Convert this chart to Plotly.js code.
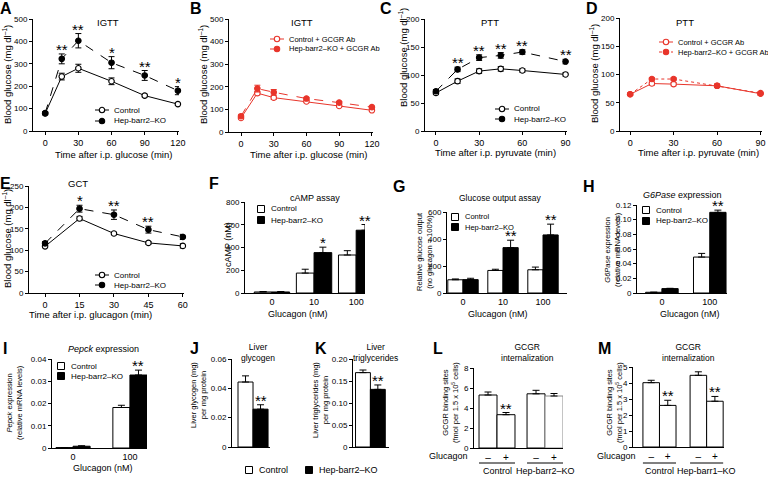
<!DOCTYPE html>
<html>
<head>
<meta charset="utf-8">
<script src="https://cdn.plot.ly/plotly-3.0.1.min.js"></script>
<style>body{margin:0;background:#fff}#fig{width:768px;height:481px}</style>
</head>
<body>
<div id="fig"></div>
<script>
// ---- data ----
// A: IGTT
const igttTime = [0, 15, 30, 60, 90, 120];
const igttCtrl = [78, 243, 280, 222, 158, 120];
const igttCtrlErr = [6, 15, 18, 15, 6, 6];
const igttKO = [80, 322, 403, 305, 248, 180];
const igttKOErr = [5, 22, 32, 27, 22, 18];
const igttStars = ['', '**', '**', '*', '**', '*'];
// B: IGTT + GCGR Ab
const igttAbCtrl = [62, 172, 152, 135, 115, 96];
const igttAbCtrlErr = [5, 8, 8, 5, 4, 5];
const igttAbKO = [70, 192, 176, 148, 130, 110];
const igttAbKOErr = [5, 15, 12, 5, 5, 5];
// C: PTT
const pttTime = [0, 15, 30, 45, 60, 90];
const pttCtrl = [68, 89, 107, 111, 108, 101];
const pttCtrlErr = [3, 4, 4, 4, 3, 3];
const pttKO = [71, 110, 131, 135, 141, 124];
const pttKOErr = [3, 4, 5, 5, 4, 4];
const pttStars = ['', '**', '**', '**', '**', '**'];
// D: PTT + GCGR Ab
const pttAbTime = [0, 15, 30, 60, 90];
const pttAbCtrl = [65, 84, 83, 80, 66];
const pttAbCtrlErr = [2, 3, 3, 3, 3];
const pttAbKO = [65, 92, 92, 80, 67];
const pttAbKOErr = [2, 2, 2, 3, 2];
// E: GCT
const gctTime = [0, 15, 30, 45, 60];
const gctCtrl = [109, 174, 139, 117, 110];
const gctCtrlErr = [3, 5, 3, 3, 5];
const gctKO = [116, 197, 183, 148, 131];
const gctKOErr = [4, 8, 11, 8, 6];
const gctStars = ['', '*', '**', '**', ''];
// F: cAMP assay
const campDoses = ['0', '10', '100'];
const campCtrl = [9, 175, 334];
const campCtrlErr = [4, 34, 38];
const campKO = [9, 355, 552];
const campKOErr = [4, 48, 50];
const campStars = ['', '*', '**'];
// G: glucose output
const outDoses = ['0', '10', '100'];
const outCtrl = [98, 167, 172];
const outCtrlErr = [6, 9, 20];
const outKO = [99, 336, 430];
const outKOErr = [10, 55, 80];
const outStars = ['', '**', '**'];
// H: G6Pase
const g6Doses = ['0', '100'];
const g6Ctrl = [0.001, 0.049];
const g6CtrlErr = [0, 0.005];
const g6KO = [0.006, 0.110];
const g6KOErr = [0.0004, 0.003];
const g6Stars = ['', '**'];
// I: Pepck
const pepDoses = ['0', '100'];
const pepCtrl = [0.0002, 0.0182];
const pepCtrlErr = [0, 0.001];
const pepKO = [0.0008, 0.0328];
const pepKOErr = [0.0002, 0.0022];
const pepStars = ['', '**'];
// J, K: liver content
const glycogen = [0.0443, 0.0258];
const glycogenErr = [0.0042, 0.003];
const trig = [0.169, 0.131];
const trigErr = [0.006, 0.010];
// L, M: GCGR internalization (-, + glucagon per genotype)
const glucagonSigns = ['–', '+', '–', '+'];
const intL = [5.3, 3.33, 5.42, 5.2];
const intLErr = [0.3, 0.22, 0.35, 0.25];
const intLStars = ['', '**', '', ''];
const intLGroups = ['Control', 'Hep-barr2–KO'];
const intM = [4.02, 2.6, 4.48, 2.86];
const intMErr = [0.15, 0.32, 0.22, 0.3];
const intMStars = ['', '**', '', '**'];
const intMGroups = ['Control', 'Hep-barr1–KO'];

const nameCtrl = 'Control';
const nameKO = 'Hep-barr2–KO';
const nameCtrlAb = 'Control + GCGR Ab';
const nameKOAb = 'Hep-barr2–KO + GCGR Ab';

// ---- helpers ----
const W = 768, H = 481;
const RED = '#e8352b';
const FONT = 'Liberation Sans, Arial, Helvetica, sans-serif';
const fx = p => p / W;
const fy = p => 1 - p / H;
const axId = n => (n === 1 ? '' : String(n));

const traces = [];
const layout = {
    width: W,
    height: H,
    margin: {l: 0, r: 0, t: 0, b: 0},
    showlegend: false,
    barmode: 'overlay',
    paper_bgcolor: 'white',
    plot_bgcolor: 'rgba(0,0,0,0)',
    font: {family: FONT, size: 9, color: 'black'},
    annotations: [],
    shapes: [],
};

function setAxes(n, box, xRange, yRange, yVals, yText, xExtra) {
    const [x0, x1, y0, y1] = box;
    layout['xaxis' + axId(n)] = Object.assign({
        domain: [fx(x0), fx(x1)],
        range: xRange,
        anchor: 'y' + axId(n),
        showline: true, linecolor: 'black', linewidth: 1,
        ticks: 'outside', ticklen: 3, tickwidth: 1, tickcolor: 'black',
        showgrid: false, zeroline: false, fixedrange: true,
        tickfont: {family: FONT, size: 9},
    }, xExtra);
    layout['yaxis' + axId(n)] = {
        domain: [fy(y1), fy(y0)],
        range: yRange,
        anchor: 'x' + axId(n),
        showline: true, linecolor: 'black', linewidth: 1,
        ticks: 'outside', ticklen: 3, tickwidth: 1, tickcolor: 'black',
        showgrid: false, zeroline: false, fixedrange: true,
        tickvals: yVals,
        ticktext: yText || yVals.map(String),
        tickfont: {family: FONT, size: 8},
    };
}

function addLine(n, x, y, err, color, filled, dash) {
    traces.push({
        type: 'scatter', mode: 'lines+markers', x, y,
        xaxis: 'x' + axId(n), yaxis: 'y' + axId(n),
        line: {color, width: 1, dash},
        marker: {symbol: 'circle', size: 5.5, color: filled ? color : 'white', line: {color, width: 1.1}},
        error_y: {type: 'data', array: err, color, thickness: 1, width: 3},
        cliponaxis: false,
    });
}

function addBars(n, x, y, err, width, fill, edge) {
    traces.push({
        type: 'bar', x, y, width,
        xaxis: 'x' + axId(n), yaxis: 'y' + axId(n),
        marker: {color: fill, line: {color: edge || 'black', width: 1}},
        error_y: {type: 'data', symmetric: false, array: err, arrayminus: err.map(() => 0),
            color: 'black', thickness: 1, width: 3.5},
    });
}

function addStars(n, x, tops, labels) {
    labels.forEach((s, i) => {
        if (!s) return;
        layout.annotations.push({
            xref: 'x' + axId(n), yref: 'y' + axId(n), x: x[i], y: tops[i],
            text: s, showarrow: false, xanchor: 'center', yanchor: 'bottom', yshift: -6,
            font: {family: FONT, size: 15},
        });
    });
}

function text(x, y, t, size, extra) {
    layout.annotations.push(Object.assign({
        xref: 'paper', yref: 'paper', x: fx(x), y: fy(y), text: t, showarrow: false,
        xanchor: 'center', yanchor: 'middle', font: {family: FONT, size},
    }, extra));
}

function ytitle(x, y, t, size) {
    text(x, y, t, size, {textangle: -90});
}

function lineLegend(textX, rows, names, color, dashes, size) {
    names.forEach((name, i) => {
        const y = rows[i];
        const cx = textX - 10;
        layout.shapes.push({type: 'line', xref: 'paper', yref: 'paper',
            x0: fx(cx - 7), x1: fx(cx + 7), y0: fy(y), y1: fy(y),
            line: {color, width: 1, dash: dashes[i]}});
        layout.shapes.push({type: 'circle', xref: 'paper', yref: 'paper',
            xsizemode: 'pixel', ysizemode: 'pixel', xanchor: fx(cx), yanchor: fy(y),
            x0: -2.7, x1: 2.7, y0: -2.7, y1: 2.7,
            fillcolor: i === 0 ? 'white' : color, line: {color, width: 1.1}});
        text(textX, y, name, size || 8, {xanchor: 'left'});
    });
}

function barLegend(textX, rows, names, size, fills) {
    names.forEach((name, i) => {
        const y = rows[i];
        const cx = textX - 8;
        layout.shapes.push({type: 'rect', xref: 'paper', yref: 'paper',
            xsizemode: 'pixel', ysizemode: 'pixel', xanchor: fx(cx), yanchor: fy(y),
            x0: -3.5, x1: 3.5, y0: -3.5, y1: 3.5,
            fillcolor: fills ? fills[i] : (i === 0 ? 'white' : 'black'), line: {color: 'black', width: 1}});
        text(textX, y, name, size || 8, {xanchor: 'left'});
    });
}

const sumTop = (v, e) => v.map((d, i) => d + e[i]);

// ---- A ----
setAxes(1, [33, 179, 19, 131], [-11, 121], [0, 500], [0, 100, 200, 300, 400, 500], null,
    {tickvals: [0, 30, 60, 90, 120]});
addLine(1, igttTime, igttCtrl, igttCtrlErr, 'black', false, 'solid');
addLine(1, igttTime, igttKO, igttKOErr, 'black', true, 'dash');
addStars(1, igttTime, sumTop(igttKO, igttKOErr), igttStars);
lineLegend(112, [110, 121], [nameCtrl, nameKO], 'black', ['solid', 'dash']);

// ---- B ----
setAxes(2, [229, 373, 19, 132], [-11, 121], [0, 500], [0, 100, 200, 300, 400, 500], null,
    {tickvals: [0, 30, 60, 90, 120]});
addLine(2, igttTime, igttAbCtrl, igttAbCtrlErr, RED, false, 'solid');
addLine(2, igttTime, igttAbKO, igttAbKOErr, RED, true, 'dash');
lineLegend(287, [39, 49], [nameCtrlAb, nameKOAb], RED, ['solid', 'dash'], 7.5);

// ---- C ----
setAxes(3, [425, 567, 19, 131], [-7.6, 91], [0, 200], [0, 50, 100, 150, 200], null,
    {tickvals: [0, 30, 60, 90]});
addLine(3, pttTime, pttCtrl, pttCtrlErr, 'black', false, 'solid');
addLine(3, pttTime, pttKO, pttKOErr, 'black', true, 'dash');
addStars(3, pttTime, sumTop(pttKO, pttKOErr), pttStars);
lineLegend(512, [109, 119], [nameCtrl, nameKO], 'black', ['solid', 'dash']);

// ---- D ----
setAxes(4, [620, 762, 18, 131], [-7, 91], [0, 200], [0, 50, 100, 150, 200], null,
    {tickvals: [0, 30, 60, 90]});
addLine(4, pttAbTime, pttAbCtrl, pttAbCtrlErr, RED, false, 'solid');
addLine(4, pttAbTime, pttAbKO, pttAbKOErr, RED, true, 'dot');
lineLegend(676, [42, 52], [nameCtrlAb, nameKOAb], RED, ['solid', 'dot'], 7.5);

// ---- E ----
setAxes(5, [29, 184, 186, 293], [-7, 60.5], [0, 250], [0, 50, 100, 150, 200, 250], null,
    {tickvals: [0, 15, 30, 45, 60]});
addLine(5, gctTime, gctCtrl, gctCtrlErr, 'black', false, 'solid');
addLine(5, gctTime, gctKO, gctKOErr, 'black', true, 'dash');
addStars(5, gctTime, sumTop(gctKO, gctKOErr), gctStars);
lineLegend(112, [275, 285], [nameCtrl, nameKO], 'black', ['solid', 'dash']);

// ---- grouped bar panels F, G, H, I ----
const barX = {ticks: '', tickfont: {family: FONT, size: 9}};
function groupedBars(n, box, xRange, yRange, yVals, yText, cats, ctrl, ctrlErr, ko, koErr, stars, w) {
    const g = cats.map((_, i) => i);
    setAxes(n, box, xRange, yRange, yVals, yText, Object.assign({tickvals: g, ticktext: cats}, barX));
    addBars(n, g.map(v => v - w / 2), ctrl, ctrlErr, w, 'white');
    addBars(n, g.map(v => v + w / 2), ko, koErr, w, 'black');
    addStars(n, g.map(v => v + w / 2), sumTop(ko, koErr), stars);
}

groupedBars(6, [245, 365, 202, 293], [-0.64, 2.21], [0, 800], [0, 200, 400, 600, 800], null,
    campDoses, campCtrl, campCtrlErr, campKO, campKOErr, campStars, 0.42);
barLegend(269, [209, 220], [nameCtrl, nameKO]);

groupedBars(7, [447, 567, 212, 293], [-0.4, 2.6], [0, 600], [0, 200, 400, 600], null,
    outDoses, outCtrl, outCtrlErr, outKO, outKOErr, outStars, 0.38);
barLegend(463, [217, 227], [nameCtrl, nameKO], 7.5);

groupedBars(8, [637, 727, 205, 293], [-0.52, 1.36], [0, 0.12],
    [0, 0.02, 0.04, 0.06, 0.08, 0.10, 0.12], ['0', '0.02', '0.04', '0.06', '0.08', '0.10', '0.12'],
    g6Doses, g6Ctrl, g6CtrlErr, g6KO, g6KOErr, g6Stars, 0.34);
barLegend(654, [210, 221], [nameCtrl, nameKO]);

groupedBars(9, [52, 147, 359, 448], [-0.37, 1.3], [0, 0.04],
    [0, 0.01, 0.02, 0.03, 0.04], ['0', '0.01', '0.02', '0.03', '0.04'],
    pepDoses, pepCtrl, pepCtrlErr, pepKO, pepKOErr, pepStars, 0.3);
barLegend(69, [366, 376], [nameCtrl, nameKO]);

// ---- J, K ----
const noX = {showticklabels: false, ticks: ''};
setAxes(10, [232, 270, 359, 447], [-0.9, 1.63], [0, 0.06], [0, 0.02, 0.04, 0.06],
    ['0', '0.02', '0.04', '0.06'], noX);
addBars(10, [0], [glycogen[0]], [glycogenErr[0]], 1, 'white');
addBars(10, [1], [glycogen[1]], [glycogenErr[1]], 1, 'black');
addStars(10, [1], [glycogen[1] + glycogenErr[1]], ['**']);

setAxes(11, [353, 389, 359, 447], [-0.67, 1.75], [0, 0.2], [0, 0.05, 0.10, 0.15, 0.20],
    ['0', '0.05', '0.10', '0.15', '0.20'], noX);
addBars(11, [0], [trig[0]], [trigErr[0]], 1, 'white');
addBars(11, [1], [trig[1]], [trigErr[1]], 1, 'black');
addStars(11, [1], [trig[1] + trigErr[1]], ['**']);

barLegend(257, [470], [nameCtrl], 9, ['white']);
barLegend(317, [470], [nameKO], 9, ['black']);

// ---- L, M ----
function internalization(n, box, xRange, yRange, yVals, vals, errs, stars, groups, gap, edges) {
    const pos = vals.map((_, i) => Math.floor(i / 2) * gap + (i % 2));
    setAxes(n, box, xRange, yRange, yVals, null,
        Object.assign({}, barX, {tickvals: pos, ticktext: glucagonSigns, tickfont: {family: FONT, size: 10}}));
    vals.forEach((v, i) => addBars(n, [pos[i]], [v], [errs[i]], 1, 'white', edges ? edges[i] : 'black'));
    addStars(n, pos, sumTop(vals, errs), stars);
    groups.forEach((name, gi) => {
        layout.shapes.push({type: 'line', xref: 'x' + axId(n), yref: 'paper',
            x0: gi * gap - 0.5, x1: gi * gap + 1.5, y0: fy(463), y1: fy(463),
            line: {color: 'black', width: 1}});
        layout.annotations.push({xref: 'x' + axId(n), yref: 'paper', x: gi * gap + 0.5, y: fy(471),
            text: name, showarrow: false, yanchor: 'middle', font: {family: FONT, size: 9}});
    });
}

internalization(12, [474, 563, 368, 448], [-0.78, 4.17], [0, 8], [0, 2, 4, 6, 8],
    intL, intLErr, intLStars, intLGroups, 2.67, ['black', 'black', 'black', '#888']);
text(470, 456, 'Glucagon', 9, {xanchor: 'right'});

internalization(13, [633, 724, 367, 447], [-1.1, 4.4], [0, 5], [0, 1, 2, 3, 4, 5],
    intM, intMErr, intMStars, intMGroups, 2.85);
text(638, 456, 'Glucagon', 9, {xanchor: 'right'});

// ---- titles ----
text(108, 22, 'IGTT', 9.5);
text(302, 22, 'IGTT', 9.5);
text(490, 22, 'PTT', 9.5);
text(685, 22, 'PTT', 9.5);
text(78, 183, 'GCT', 9.5);
text(315, 198, 'cAMP assay', 9);
text(500, 198, 'Glucose output assay', 8.5);
text(682, 195, '<i>G6Pase</i> expression', 9);
text(103, 349, '<i>Pepck</i> expression', 9);
text(258, 352, 'Liver<br>glycogen', 8.5);
text(375, 352, 'Liver<br>triglycerides', 8.5);
text(527, 352, 'GCGR<br>internalization', 8.5);
text(688, 352, 'GCGR<br>internalization', 8.5);

// x titles
text(113, 154, 'Time after i.p. glucose (min)', 9.5);
text(308, 154, 'Time after i.p. glucose (min)', 9.5);
text(495, 153, 'Time after i.p. pyruvate (min)', 9.5);
text(698, 153, 'Time after i.p. pyruvate (min)', 9.5);
text(90, 314, 'Time after i.p. glucagon (min)', 9.5);
text(298, 314, 'Glucagon (nM)', 9);
text(498, 314, 'Glucagon (nM)', 9);
text(690, 314, 'Glucagon (nM)', 9);
text(103, 468, 'Glucagon (nM)', 9);

// y titles
const bg = 'Blood glucose (mg dl<sup>–1</sup>)';
ytitle(7, 75, bg, 9.5);
ytitle(203, 75, bg, 9.5);
ytitle(403, 58, bg, 9.5);
ytitle(594, 74, bg, 9.5);
ytitle(7, 239, bg, 9.5);
ytitle(228, 245, 'cAMP (nM)', 9);
ytitle(424, 252, 'Relative glucose output<br>(no glucagon = 100%)', 7.5);
ytitle(612, 250, '<i>G6Pase</i> expression<br>(relative mRNA levels)', 7.5);
ytitle(14, 403, '<i>Pepck</i> expression<br>(relative mRNA levels)', 7.5);
ytitle(198, 395, 'Liver glycogen (mg)<br>per mg protein', 7.5);
ytitle(320, 400, 'Liver triglycerides (mg)<br>per mg protein', 7.5);
const bs = 'GCGR binding sites<br>(fmol per 1.5 x 10<sup>5</sup> cells)';
ytitle(450, 403, bs, 7.5);
ytitle(614, 403, bs, 7.5);

// panel letters
const letters = ['A', 'B', 'C', 'D', 'E', 'F', 'G', 'H', 'I', 'J', 'K', 'L', 'M'];
const letterPos = [[6, 8], [196, 8], [386, 8], [592, 8], [5, 183], [214, 183], [399, 186],
    [589, 186], [5, 348], [194, 348], [321, 348], [438, 348], [604, 348]];
letters.forEach((l, i) => text(letterPos[i][0], letterPos[i][1], '<b>' + l + '</b>', 16));

Plotly.newPlot('fig', traces, layout, {displayModeBar: false, staticPlot: true});
</script>
</body>
</html>
